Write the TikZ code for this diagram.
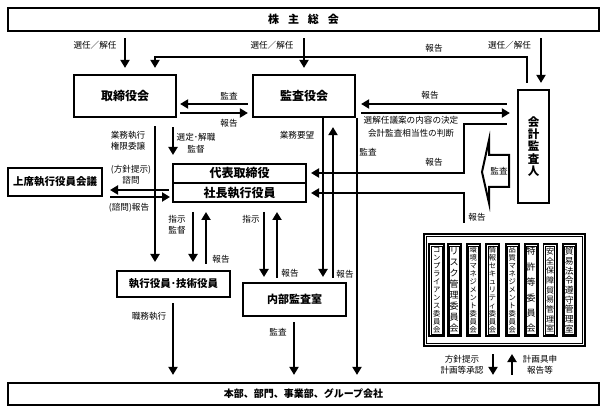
\documentclass[tikz,border=0pt]{standalone}
\usepackage{fontspec}
\setmainfont{Noto Sans CJK JP}
\usetikzlibrary{arrows.meta,calc}
\tikzset{
 box/.style={draw, line width=2.2pt, inner sep=0pt, align=center},
 bx/.style={font=\bfseries\fontsize{#1}{#1}\selectfont},
 arr/.style={line width=2pt, -{Triangle[length=8pt,width=9pt]}},
 lbl/.style={font=\fontsize{8.6pt}{11pt}\selectfont, inner sep=0pt, align=center},
 col/.style={draw, line width=1.8pt, inner sep=0pt, align=center, minimum width=13.2pt, minimum height=92.2pt},
 cfs/.style 2 args={font=\fontsize{#1}{#2}\selectfont},
}
\begin{document}
\begin{tikzpicture}[x=1pt,y=-1pt]
\fill[white] (0,0) rectangle (608,414);
\useasboundingbox (0,0) rectangle (608,414);

% ---- boxes
\node[box, bx=11pt, minimum width=591pt, minimum height=23pt] (kabu) at (303.5,19.5) {株\hspace{9pt}主\hspace{9pt}総\hspace{9pt}会};
\node[box, bx=12pt, minimum width=102pt, minimum height=42pt] (tori) at (125,96) {取締役会};
\node[box, bx=12pt, minimum width=102pt, minimum height=42pt] (kansa) at (304,96) {監査役会};
\node[box, font=\bfseries\fontsize{11.5pt}{12.3pt}\selectfont, minimum width=31pt, minimum height=113pt] (kaikei) at (533.5,146.5) {会\\計\\監\\査\\人};
\node[box, minimum width=132.8pt, minimum height=37.8pt] (dai) at (239.5,183) {};
\draw[line width=2.2pt] ([xshift=1.1pt]dai.west) -- ([xshift=-1.1pt]dai.east);
\node[bx=12pt, inner sep=0pt] (daihyo) at (239.5,173) {代表取締役};
\node[bx=12pt, inner sep=0pt] (shacho) at (239.5,193) {社長執行役員};
\node[box, bx=10.5pt, minimum width=93.8pt, minimum height=27.8pt] (joseki) at (55,182) {上席執行役員会議};
\node[box, bx=10.5pt, minimum width=112.8pt, minimum height=25.8pt] (shikko) at (173.5,284) {執行役員･技術役員};
\node[box, bx=11pt, minimum width=102.8pt, minimum height=32.8pt] (naibu) at (294.5,299.5) {内部監査室};
\node[box, bx=10pt, minimum width=591pt, minimum height=22pt] (honbu) at (303.5,394) {本部、部門、事業部、グループ会社};

% ---- committees
\node[draw, line width=2pt, minimum width=161pt, minimum height=112pt] (iin) at (504.5,290) {};
\draw[line width=0.6pt] ([shift={(3.5,-3.5)}]iin.south west) rectangle ([shift={(-3.5,3.5)}]iin.north east);
\node[col, minimum width=14.7pt, cfs={7.3pt}{8pt}] (c1) at (436.7,290) {コ\\ン\\プ\\ラ\\イ\\ア\\ン\\ス\\委\\員\\会};
\node[col, cfs={9pt}{11pt}] (c2) at (454.2,290) {リ\\ス\\ク\\管\\理\\委\\員\\会};
\node[col, cfs={7.3pt}{8pt}] (c3) at (473.3,290) {環\\境\\マ\\ネ\\ジ\\メ\\ン\\ト\\委\\員\\会};
\node[col, cfs={7.3pt}{8pt}] (c4) at (492.5,290) {情\\報\\セ\\キ\\ュ\\リ\\テ\\ィ\\委\\員\\会};
\node[col, cfs={7.3pt}{8pt}] (c5) at (512.2,290) {品\\質\\マ\\ネ\\ジ\\メ\\ン\\ト\\委\\員\\会};
\node[col, cfs={9pt}{15.4pt}] (c6) at (531.2,290) {特\\許\\等\\委\\員\\会};
\node[col, cfs={8pt}{9.7pt}] (c7) at (550,290) {安\\全\\保\\障\\貿\\易\\管\\理\\室};
\node[col, cfs={8.8pt}{9.7pt}] (c8) at (569.2,290) {貿\\易\\法\\令\\遵\\守\\管\\理\\室};
\foreach \c in {c1,c2,c3,c4,c5,c6,c7,c8}
  \draw[line width=0.5pt] ([shift={(2.8,-2.8)}]\c.south west) rectangle ([shift={(-2.8,2.8)}]\c.north east);

% ---- top connectors
\draw[arr, shorten <=6pt, shorten >=6pt] (kabu.south -| tori.north) -- (tori.north);
\node[lbl] (l1) at (95,45) {選任／解任};
\draw[arr, shorten <=6pt, shorten >=6pt] (kabu.south -| kansa.north) -- (kansa.north);
\node[lbl] (l2) at (272,45) {選任／解任};
\coordinate (kr) at ($(kaikei.north)+(7.5,0)$);
\draw[arr, shorten <=6pt, shorten >=6pt] (kabu.south -| kr) -- (kr);
\node[lbl] (l3) at (509.5,45) {選任／解任};
\coordinate (kl) at ($(kaikei.north)+(-6.5,-6)$);
\coordinate (tl) at ($(tori.north)+(30,0)$);
\draw[arr, shorten >=6pt] (kl) |- (tl |- 0,57) -- (tl);
\node[lbl] (l4) at (434,48) {報告};

% ---- tori <-> kansa
\draw[arr, shorten <=4pt, shorten >=3pt] ($(kansa.west)+(0,8)$) -- ($(tori.east)+(0,8)$);
\draw[arr, shorten <=3pt, shorten >=4pt] ($(tori.east)+(0,17)$) -- ($(kansa.west)+(0,17)$);
\node[lbl] (l5) at (229,96) {監査};
\node[lbl] (l6) at (229,123) {報告};

% ---- kansa <-> kaikei
\draw[arr, shorten <=10pt, shorten >=5pt] ($(kaikei.west |- kansa.east)+(0,8)$) -- ($(kansa.east)+(0,8)$);
\draw[arr, shorten <=5pt, shorten >=7pt] ($(kansa.east)+(0,17)$) -- ($(kaikei.west |- kansa.east)+(0,17)$);
\node[lbl] (l7) at (430,95) {報告};
\node[lbl, font=\fontsize{8.6pt}{13pt}\selectfont] (l8) at (411,126.5) {選解任議案の内容の決定\\会計監査相当性の判断};

% ---- reports to daihyo / shacho
\coordinate (r1) at ($(kaikei.west)+(-10,-22.5)$);
\coordinate (j1) at (464,124);
\draw[arr, shorten >=4pt] (r1) -- (j1) |- (dai.east |- daihyo);
\node[lbl] (l9) at (434,162) {報告};
\coordinate (r2) at (464,223);
\draw[arr, shorten >=4pt] (r2) |- (dai.east |- shacho);
\node[lbl] (l10) at (477,217) {報告};

% ---- block arrow 監査
\draw[line width=2pt, fill=white, line join=miter] (482,172) -- (489,140) -- (489,155) -- (509,155) -- (509,187) -- (489,187) -- (489,203) -- cycle;
\node[lbl] (l11) at (499,171) {監査};

% ---- tori down
\draw[arr, shorten <=8pt, shorten >=8pt] (tl |- tori.south) -- (tl |- shikko.north);
\node[lbl] (l12) at (128,140.5) {業務執行\\権限委譲};
\coordinate (sx) at (173,0);
\draw[arr, shorten <=9pt, shorten >=8pt] (tori.south -| sx) -- (dai.north -| sx);
\node[lbl, font=\fontsize{8.6pt}{12pt}\selectfont] (l13) at (196,143) {選定･解職\\監督};

% ---- joseki
\draw[arr, shorten <=3pt, shorten >=7pt] ($(dai.west |- shacho)+(0,-3)$) -- ($(joseki.east |- shacho)+(0,-3)$);
\draw[arr, shorten <=7pt, shorten >=2pt] ($(joseki.east |- shacho)+(0,4)$) -- ($(dai.west |- shacho)+(0,4)$);
\node[lbl] (l14) at (131,174.5) {(方針提示)\\諮問};
\node[lbl] (l15) at (129,208) {(諮問)報告};

% ---- below shacho
\draw[arr, shorten <=9pt, shorten >=8pt] (dai.south -| 193,0) -- (shikko.north -| 193,0);
\draw[arr, shorten <=6pt, shorten >=9pt] (shikko.north -| 206,0) -- (dai.south -| 206,0);
\draw[arr, shorten <=9pt, shorten >=5pt] (dai.south -| 264,0) -- (naibu.north -| 264,0);
\draw[arr, shorten <=4pt, shorten >=9pt] (naibu.north -| 277,0) -- (dai.south -| 277,0);
\node[lbl] (l16) at (177,224.5) {指示\\監督};
\node[lbl] (l17) at (221,259) {報告};
\node[lbl] (l18) at (251,219) {指示};
\node[lbl] (l19) at (290,273) {報告};

% ---- kansa down
\draw[arr, shorten >=5pt] (kansa.south -| 323,0) -- (naibu.north -| 323,0);
\draw[arr, shorten <=4pt, shorten >=9pt] (naibu.north -| 333,0) -- (kansa.south -| 333,0);
\draw[arr, shorten >=7pt] (kansa.south -| 357,0) -- (honbu.north -| 357,0);
\node[lbl] (l20) at (297,135) {業務要望};
\node[lbl] (l21) at (345,274) {報告};
\node[lbl] (l22) at (368,152) {監査};

% ---- to honbu
\draw[arr, shorten <=5pt, shorten >=7pt] (shikko.south -| sx) -- (honbu.north -| sx);
\draw[arr, shorten <=5pt, shorten >=7pt] (naibu.south -| 294,0) -- (honbu.north -| 294,0);
\node[lbl] (l23) at (149,316) {職務執行};
\node[lbl] (l24) at (278,332) {監査};

% ---- committees <-> honbu
\draw[arr, shorten <=7pt, shorten >=7pt] (iin.south -| 493,0) -- (honbu.north -| 493,0);
\draw[arr, shorten <=7pt, shorten >=7pt] (honbu.north -| 512,0) -- (iin.south -| 512,0);
\node[lbl] (l25) at (462,365) {方針提示\\計画等承認};
\node[lbl] (l26) at (540,365) {計画具申\\報告等};
\end{tikzpicture}
\end{document}
